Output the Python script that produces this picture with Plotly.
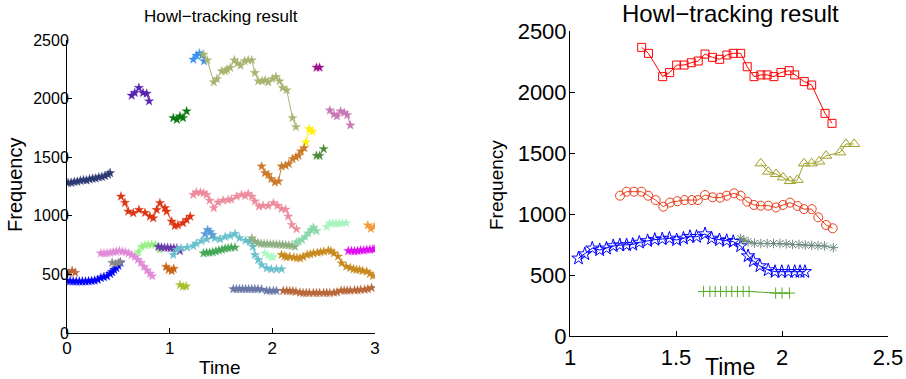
import plotly.graph_objects as go

# ---------------- Left panel data (time, frequency) ----------------
L01_t = [0.01,0.04,0.07,0.10,0.13,0.16,0.19,0.22,0.25,0.28,0.31,0.34,0.37,0.40,0.42]
L01_f = [1280,1282,1290,1292,1300,1305,1303,1312,1318,1320,1328,1332,1340,1352,1365]
L02_t = [0.0,0.03,0.06,0.09,0.12,0.15,0.18,0.21,0.24,0.27,0.30,0.33,0.36,0.39,0.42,0.44,0.46,0.48,0.50,0.52]
L02_f = [445,442,440,440,440,440,440,442,445,448,455,470,478,485,505,520,540,555,575,600]
L03_t = [0.02,0.05,0.08]
L03_f = [510,530,515]
L04_t = [0.33,0.36,0.39,0.42,0.45,0.48,0.51,0.54,0.57,0.60,0.63,0.66,0.69,0.72,0.75,0.78,0.81,0.83]
L04_f = [680,680,682,685,690,695,700,695,690,680,665,650,625,600,565,535,505,485]
L05_t = [0.44,0.47,0.50,0.52]
L05_f = [600,590,600,605]
L06_t = [0.526,0.565,0.597,0.646,0.701,0.76,0.808,0.84,0.873,0.905,0.954,0.97,1.02,1.05,1.08,1.13,1.165,1.2]
L06_f = [1165,1111,1037,1023,1051,1026,994,980,1051,1109,1066,1037,952,915,920,938,966,994]
L07_t = [0.63,0.66,0.70,0.74,0.776,0.80]
L07_f = [2026,2049,2092,2049,2043,1978]
L08_t = [0.695,0.727,0.76,0.79,0.825,0.86,0.9]
L08_f = [690,735,748,752,755,752,712]
L09_t = [0.89,0.92,0.95,0.98,1.01,1.04,1.07,1.1]
L09_f = [735,730,728,728,725,725,722,700]
L10_t = [0.965,0.99,1.02,1.04]
L10_f = [565,540,530,548]
L11_t = [1.1,1.13,1.16]
L11_f = [410,395,398]
L12_t = [1.035,1.07,1.1,1.13,1.165]
L12_f = [1835,1820,1850,1835,1892]
L13_t = [1.23,1.26,1.29,1.315,1.335]
L13_f = [2334,2368,2385,2370,2320]
L14_t = [1.33,1.366,1.43,1.46,1.506,1.54,1.56,1.59,1.63,1.66,1.69,1.73,1.765,1.80,1.83,1.863,1.9,1.93,1.96,2.0,2.035,2.07,2.1,2.14,2.197,2.23]
L14_f = [2377,2328,2140,2168,2234,2234,2248,2263,2328,2300,2282,2320,2328,2328,2220,2149,2150,2157,2140,2168,2186,2149,2092,2072,1835,1758]
L15_t = [2.43,2.46]
L15_f = [2265,2265]
L16_t = [2.56,2.60,2.63,2.665,2.70,2.73,2.76]
L16_f = [1900,1865,1850,1892,1880,1860,1772]
L17_t = [2.327,2.36,2.39]
L17_f = [1627,1741,1720]
L18_t = [2.43,2.46,2.50]
L18_f = [1513,1513,1570]
L19_t = [1.896,1.928,1.96,1.99,2.025,2.06,2.09,2.13,2.16,2.197,2.23,2.255,2.28,2.31]
L19_f = [1422,1365,1350,1314,1285,1294,1422,1428,1442,1485,1500,1513,1550,1579]
L20_t = [1.23,1.26,1.30,1.33,1.36,1.39,1.43,1.47,1.52,1.57,1.6,1.652,1.70,1.735,1.765,1.80,1.83,1.87,1.91,1.96,2.01,2.05,2.09,2.13,2.155,2.19,2.236]
L20_f = [1180,1200,1200,1194,1180,1131,1066,1115,1131,1137,1140,1165,1180,1170,1188,1165,1123,1080,1087,1085,1109,1087,1060,1054,995,923,886]
L21_t = [1.035,1.07,1.11,1.17,1.23,1.26,1.31,1.36,1.44,1.49,1.54,1.59,1.636,1.68,1.74,1.78,1.81,1.83,1.863,1.897,1.945,1.99,2.04,2.09]
L21_f = [667,710,724,730,743,763,785,800,809,800,820,830,846,810,789,780,738,667,624,581,553,544,544,544]
L22_t = [1.345,1.37,1.395,1.415]
L22_f = [845,880,862,838]
L23_t = [1.8,1.83,1.86,1.89,1.92,1.95,1.98,2.01,2.04,2.07,2.1,2.13,2.16,2.19,2.22]
L23_f = [809,780,768,762,760,760,758,758,755,755,752,750,748,745,738]
L24_t = [2.236,2.26,2.29,2.32,2.35,2.38,2.40,2.43]
L24_f = [775,780,795,820,850,880,900,870]
L25_t = [1.928,1.96,1.99,2.01]
L25_f = [681,660,650,648]
L26_t = [2.53,2.56,2.59,2.62,2.65,2.68,2.72]
L26_f = [905,937,935,935,935,938,938]
L27_t = [2.93,2.96,2.99]
L27_f = [920,890,905]
L28_t = [1.33,1.36,1.39,1.42,1.45,1.48,1.51,1.54,1.57,1.60,1.636]
L28_f = [681,686,686,690,697,705,712,720,725,730,730]
L29_t = [2.09,2.12,2.14,2.17,2.21,2.24,2.27,2.30,2.34,2.37,2.4,2.44,2.47,2.5,2.545,2.57,2.6,2.64,2.675,2.72,2.76,2.79,2.82,2.85,2.88,2.92,2.95,2.98]
L29_f = [667,655,647,650,645,640,638,650,667,672,681,685,690,695,704,698,681,653,596,567,555,544,540,538,530,524,505,487]
L30_t = [2.74,2.77,2.8,2.83,2.86,2.89,2.92,2.95,2.98,3.0]
L30_f = [700,700,698,700,705,705,710,712,715,715]
L31_t = [1.62,1.65,1.68,1.71,1.74,1.77,1.8,1.83,1.86,1.895,1.945,1.975,2.01,2.04]
L31_f = [375,375,375,375,375,375,375,375,375,372,360,360,360,360]
L32_t = [2.106,2.14,2.17,2.2,2.23,2.27,2.3,2.33,2.36,2.4,2.43,2.46,2.5,2.53,2.56,2.6,2.63,2.67,2.7,2.73,2.76,2.8,2.83,2.86,2.9,2.93,2.967]
L32_f = [360,360,358,358,352,345,342,342,342,342,342,342,342,342,342,345,348,362,362,362,362,365,365,368,370,375,385]

# ---------------- Right panel data ----------------
R_sq_t = [1.338,1.37,1.437,1.47,1.503,1.538,1.572,1.605,1.637,1.672,1.706,1.74,1.77,1.805,1.836,1.868,1.9,1.93,1.962,1.995,2.034,2.06,2.105,2.14,2.203,2.236]
R_sq_f = [2366,2317,2126,2159,2221,2221,2240,2254,2311,2284,2268,2303,2317,2317,2207,2126,2140,2140,2126,2160,2175,2140,2085,2057,1825,1743]
R_tri_t = [1.90,1.935,1.972,2.005,2.038,2.073,2.104,2.14,2.175,2.208,2.274,2.302,2.34]
R_tri_f = [1415,1347,1328,1300,1270,1280,1415,1415,1430,1478,1505,1574,1574]
R_cir_t = [1.236,1.267,1.302,1.337,1.369,1.404,1.44,1.472,1.507,1.54,1.575,1.603,1.637,1.673,1.708,1.739,1.774,1.805,1.836,1.868,1.90,1.935,1.972,2.005,2.038,2.073,2.104,2.14,2.171,2.208,2.239]
R_cir_f = [1150,1183,1183,1183,1150,1114,1060,1094,1105,1114,1114,1114,1156,1137,1134,1150,1170,1150,1101,1074,1068,1068,1054,1074,1093,1066,1040,1040,973,910,883]
R_star_t = [1.04,1.07,1.105,1.14,1.172,1.204,1.235,1.267,1.296,1.327,1.366,1.40,1.435,1.469,1.503,1.535,1.566,1.597,1.637,1.668,1.705,1.739,1.77,1.805,1.84,1.865,1.896,1.935,1.967,1.999,2.03,2.06,2.085,2.108]
R_star_f = [637,672,719,705,719,738,745,746,750,767,780,790,795,800,787,800,814,814,836,800,787,781,773,738,656,615,574,541,527,527,527,527,527,527]
R_ast_t = [1.805,1.82,1.84,1.87,1.9,1.93,1.96,1.99,2.02,2.05,2.08,2.11,2.14,2.17,2.2,2.242]
R_ast_f = [800,785,773,760,758,758,758,758,755,750,750,745,743,740,738,724]
R_plus_t = [1.63,1.66,1.685,1.71,1.737,1.763,1.79,1.817,1.845,1.97,2.0,2.035]
R_plus_f = [365,365,365,365,365,365,365,365,365,352,352,352]

left_series = [
    (L01_t, L01_f, "#2d3a73"), (L02_t, L02_f, "#0000ff"), (L03_t, L03_f, "#c0643c"),
    (L04_t, L04_f, "#e08ad8"), (L05_t, L05_f, "#888888"), (L06_t, L06_f, "#dd3311"),
    (L07_t, L07_f, "#5a22b0"), (L08_t, L08_f, "#99f088"), (L09_t, L09_f, "#6a3aa8"),
    (L10_t, L10_f, "#c86414"), (L11_t, L11_f, "#a8c030"), (L12_t, L12_f, "#0a7a10"),
    (L13_t, L13_f, "#3a8ef0"), (L14_t, L14_f, "#a8b470"), (L15_t, L15_f, "#a0108c"),
    (L16_t, L16_f, "#c878b4"), (L17_t, L17_f, "#ffee00"), (L18_t, L18_f, "#4a8a3a"),
    (L19_t, L19_f, "#cc7a2a"), (L20_t, L20_f, "#ec8c9c"), (L21_t, L21_f, "#68c0cc"),
    (L22_t, L22_f, "#5a9ad8"), (L23_t, L23_f, "#8eb080"), (L24_t, L24_f, "#88d8aa"),
    (L25_t, L25_f, "#b0f8c8"), (L26_t, L26_f, "#a8f4c0"), (L27_t, L27_f, "#f09a3a"),
    (L28_t, L28_f, "#44a858"), (L29_t, L29_f, "#c88a20"), (L30_t, L30_f, "#e010f0"),
    (L31_t, L31_f, "#6a78a8"), (L32_t, L32_f, "#b8683a"),
]

right_series = [
    (R_sq_t, R_sq_f, "#ff0000", "square-open", 8),
    (R_tri_t, R_tri_f, "#a0a028", "triangle-up-open", 10),
    (R_cir_t, R_cir_f, "#e8401c", "circle-open", 9),
    (R_star_t, R_star_f, "#0000ff", "star-open", 10),
    (R_ast_t, R_ast_f, "#708a7e", "asterisk-open", 8),
    (R_plus_t, R_plus_f, "#5aaa2a", "cross-thin-open", 8),
]

fig = go.Figure()
for t, f, c in left_series:
    fig.add_trace(go.Scatter(x=t, y=f, mode="lines+markers", xaxis="x", yaxis="y",
                             line=dict(color=c, width=1),
                             marker=dict(symbol="star", size=7, color=c, line=dict(width=0.3, color=c)),
                             showlegend=False, hoverinfo="skip"))
for t, f, c, s, sz in right_series:
    fig.add_trace(go.Scatter(x=t, y=f, mode="lines+markers", xaxis="x2", yaxis="y2",
                             line=dict(color=c, width=1),
                             marker=dict(symbol=s, size=sz, color=c, line=dict(width=1, color=c)),
                             showlegend=False, hoverinfo="skip"))

W, H = 906, 379
small = "Liberation Sans, Arial, sans-serif"
regular = "Liberation Sans, Arial, sans-serif"

ax_common = dict(showline=True, linecolor="black", linewidth=1, ticks="inside", ticklen=5,
                 tickcolor="black", showgrid=False, zeroline=False, mirror=False, automargin=False)

fig.update_layout(
    width=W, height=H, margin=dict(l=0, r=0, t=0, b=0, autoexpand=False),
    paper_bgcolor="white", plot_bgcolor="white",
    xaxis=dict(domain=[67/W, 375/W], range=[0, 3], tickvals=[0, 1, 2, 3], ticklabelstandoff=0,
               tickfont=dict(family=small, size=17, color="black"), anchor="y", **ax_common),
    yaxis=dict(domain=[1-333/H, 1-40/H], range=[0, 2500], tickvals=[0, 500, 1000, 1500, 2000, 2500],
               ticklabelstandoff=-6,
               tickfont=dict(family=small, size=16, color="black"), anchor="x", **ax_common),
    xaxis2=dict(domain=[570/W, 888/W], range=[1, 2.5], tickvals=[1, 1.5, 2, 2.5],
                ticktext=["1", "1.5", "2", "2.5"], ticklabelstandoff=2,
                tickfont=dict(family=regular, size=22, color="black"), anchor="y2", **ax_common),
    yaxis2=dict(domain=[1-336/H, 1-31/H], range=[0, 2500], tickvals=[0, 500, 1000, 1500, 2000, 2500],
                ticklabelstandoff=-2,
                tickfont=dict(family=regular, size=22, color="black"), anchor="x2", **ax_common),
)

def ann(text, x, y, family, size, angle=0):
    fig.add_annotation(text=text, x=x/W, y=1-y/H, xref="paper", yref="paper",
                       xanchor="center", yanchor="middle", showarrow=False, textangle=angle,
                       font=dict(family=family, size=size, color="black"))

ann("Howl\u2212tracking result", 221, 16, small, 17)
ann("Howl\u2212tracking result", 730, 14, regular, 24)
ann("Time", 220, 367, small, 19)
ann("Time", 730, 367, regular, 23)
ann("Frequency", 15, 185, regular, 20, -90)
ann("Frequency", 496, 185, regular, 19, -90)

fig.write_html("out.html")
